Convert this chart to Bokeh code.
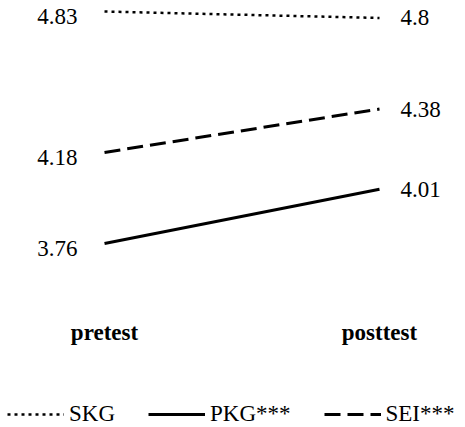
from bokeh.plotting import figure
from bokeh.models import ColumnDataSource, Range1d, FixedTicker, Legend, LegendItem
from bokeh.embed import file_html
from bokeh.resources import INLINE
from bokeh.core.properties import value

# ---- data ----
stages = ["pretest", "posttest"]
skg = [4.83, 4.8]
pkg = [3.76, 4.01]
sei = [4.18, 4.38]
series_names = ["SKG", "PKG***", "SEI***"]

FONT = "'Liberation Serif', 'Times New Roman', serif"
FS = "23px"
xs = list(range(len(stages)))

p = figure(width=465, height=427, output_backend="svg", toolbar_location=None,
           x_range=Range1d(-0.3782, 1.3127), y_range=Range1d(2.9111, 4.8807),
           y_axis_location=None, min_border=0, outline_line_color=None,
           background_fill_color="white", border_fill_color="white")
p.grid.visible = False

ax = p.xaxis[0]
ax.fixed_location = 3.4554
ax.ticker = FixedTicker(ticks=xs)
ax.major_label_overrides = {i: s for i, s in enumerate(stages)}
ax.axis_line_color = None
ax.major_tick_line_color = None
ax.minor_tick_line_color = None
ax.major_label_standoff = 5
ax.major_label_text_font = FONT
ax.major_label_text_font_size = FS
ax.major_label_text_font_style = "bold"
ax.major_label_text_color = "black"

r_skg = p.line(xs, skg, line_color="black", line_width=2.5, line_dash="3 4")
r_pkg = p.line(xs, pkg, line_color="black", line_width=3)
r_sei = p.line(xs, sei, line_color="black", line_width=3, line_dash="16 7")

series = [skg, pkg, sei]
left = ColumnDataSource(dict(x=[xs[0]] * 3, y=[s[0] for s in series],
                             t=[f"{s[0]:g}" for s in series]))
right = ColumnDataSource(dict(x=[xs[1]] * 3, y=[s[1] for s in series],
                              t=[f"{s[1]:g}" for s in series]))
p.text(x="x", y="y", text="t", source=left, text_align="right", text_baseline="middle",
       x_offset=-27, y_offset=5, text_font=value(FONT), text_font_size=FS, text_color="black")
p.text(x="x", y="y", text="t", source=right, text_align="left", text_baseline="middle",
       x_offset=21, y_offset=0, text_font=value(FONT), text_font_size=FS, text_color="black")

legend = Legend(items=[LegendItem(label=n, renderers=[r])
                       for n, r in zip(series_names, [r_skg, r_pkg, r_sei])],
                orientation="horizontal", location=(7, 0),
                glyph_width=57, glyph_height=18, label_height=18, label_standoff=5,
                spacing=33, padding=0, margin=0, border_line_color=None,
                background_fill_alpha=0, label_text_font=FONT, label_text_font_size=FS,
                label_text_color="black")
p.add_layout(legend, "center")

open("out.html", "w").write(file_html(p, INLINE))
